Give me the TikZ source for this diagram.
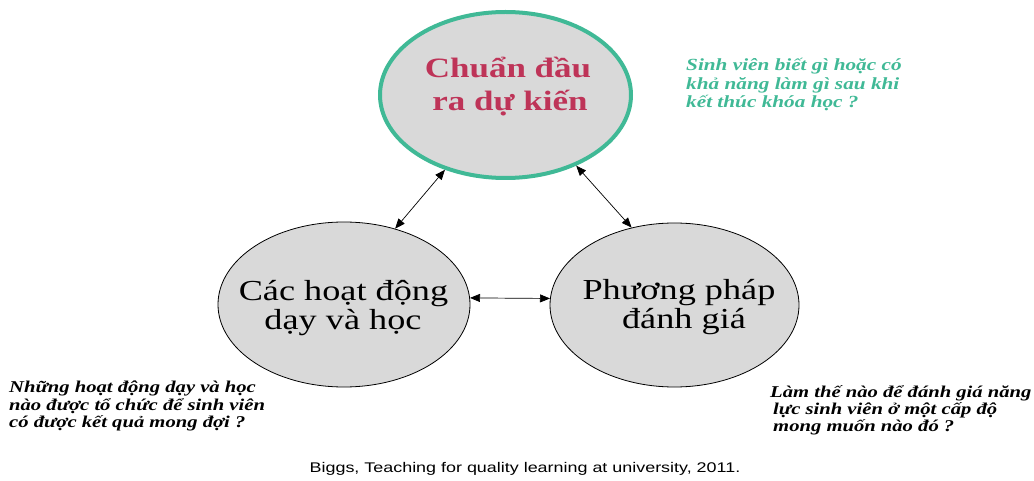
\documentclass[tikz,border=0pt]{standalone}
\usepackage{fontspec}
\setmainfont{Liberation Serif}[FakeStretch=1.25]
\newfontfamily\citefont{Liberation Sans}[FakeStretch=1.28]
\usetikzlibrary{shapes.geometric,arrows.meta}
\definecolor{tealline}{RGB}{64,185,150}
\definecolor{crim}{RGB}{190,52,88}
\definecolor{ellfill}{RGB}{217,217,217}
\begin{document}
\begin{tikzpicture}[x=1pt,y=-1pt,
  ell/.style={ellipse, draw=black, fill=ellfill, line width=0.8pt, inner sep=0pt},
  link/.style={{Triangle[length=10pt,width=8pt]}-{Triangle[length=10pt,width=8pt]}, line width=0.7pt},
  toptext/.style={anchor=base, inner sep=0pt, text=crim, font=\fontsize{28}{33}\selectfont\bfseries},
  midtext/.style={anchor=base, inner sep=0pt, font=\fontsize{29}{30}\selectfont},
  greentext/.style={anchor=base west, inner sep=0pt, text=tealline, font=\fontsize{17}{19}\selectfont\bfseries\itshape},
  blacknote/.style={anchor=base west, inner sep=0pt, font=\fontsize{16.5}{17.5}\selectfont\bfseries\itshape},
  citetext/.style={anchor=base, inner sep=0pt, font=\citefont\fontsize{14}{16}\selectfont}
]
\useasboundingbox (0,0) rectangle (1034,481);

% ellipses
\node[ell, draw=tealline, line width=4pt, minimum width=251pt, minimum height=166pt] (top) at (505.5,95) {};
\node[ell, minimum width=252pt, minimum height=165pt] (left) at (344,304.5) {};
\node[ell, minimum width=249pt, minimum height=164pt] (right) at (674.5,305) {};

% texts inside ellipses
\node[toptext] (top1) at (508,78) {Chuẩn đầu};
\node[toptext] (top2) at (510,111) {ra dự kiến};
\node[midtext] (left1) at (343.5,301) {Các hoạt động};
\node[midtext] (left2) at (343,330) {dạy và học};
\node[midtext] (right1) at (679,300) {Phương pháp};
\node[midtext] (right2) at (684,328) {đánh giá};

% connectors
\draw[link] (top.231) -- (left.56);
\draw[link] (top.315) -- (right.119);
\draw[link] (left.3) -- (right.177);

% notes
\node[greentext] (g1) at (686,71) {Sinh viên biết gì hoặc có};
\node[greentext] (g2) at (686,90) {khả năng làm gì sau khi};
\node[greentext] (g3) at (686,108) {kết thúc khóa học ?};

\node[blacknote] (l1) at (9,392) {Những hoạt động dạy và học};
\node[blacknote] (l2) at (9,410) {nào được tổ chức để sinh viên};
\node[blacknote] (l3) at (9,427) {có được kết quả mong đợi ?};

\node[blacknote] (r1) at (770,397) {Làm thế nào để đánh giá năng};
\node[blacknote] (r2) at (773,414) {lực sinh viên ở một cấp độ};
\node[blacknote] (r3) at (773,431) {mong muốn nào đó ?};

\node[citetext] (cite) at (525,472) {Biggs, Teaching for quality learning at university, 2011.};
\end{tikzpicture}
\end{document}
